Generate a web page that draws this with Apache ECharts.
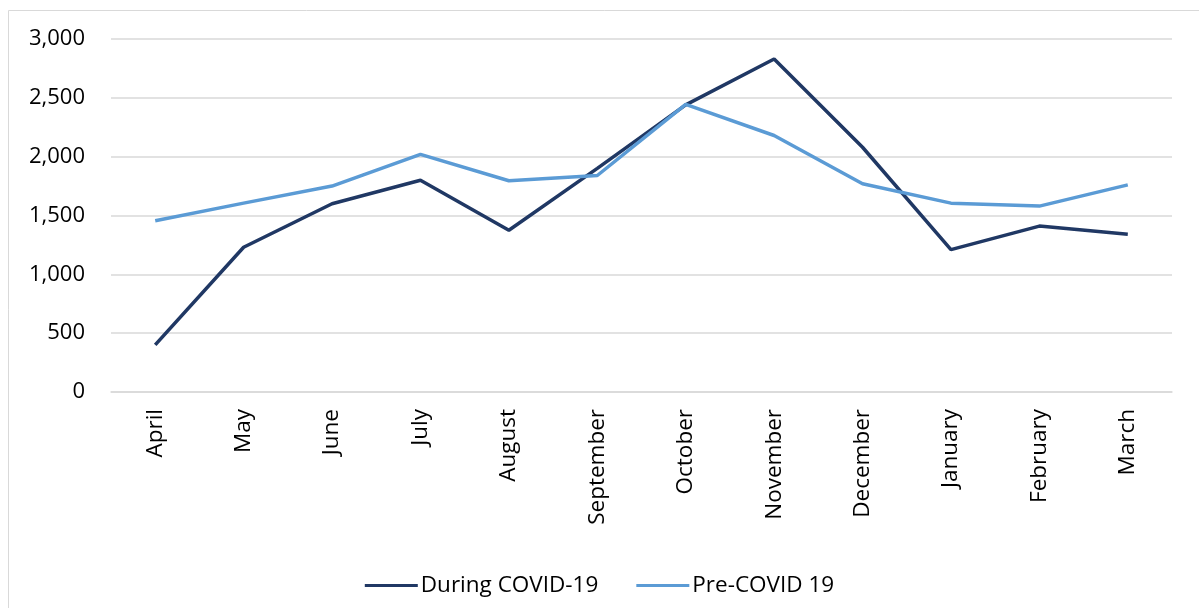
<!DOCTYPE html>
<html>
<head>
<meta charset="utf-8">
<script src="https://cdn.jsdelivr.net/npm/echarts@6/dist/echarts.min.js"></script>
<style>
  html, body { margin: 0; padding: 0; background: #fff; }
  #main { width: 1199px; height: 608px; }
</style>
</head>
<body>
<div id="main"></div>
<script>
// months of the year, April to March
var months = ['April', 'May', 'June', 'July', 'August', 'September', 'October',
    'November', 'December', 'January', 'February', 'March'];
var duringCovid = [400, 1230, 1600, 1800, 1375, 1900, 2440, 2830, 2080, 1210, 1410, 1340];
var preCovid = [1455, 1605, 1750, 2020, 1795, 1840, 2445, 2180, 1770, 1605, 1580, 1760];
var seriesNames = ['During COVID-19', 'Pre-COVID 19'];

var font = '"Open Sans", "Liberation Sans", sans-serif';

var myChart = echarts.init(document.getElementById('main'));
var option = {
    animation: false,
    color: ['#203864', '#5b9bd5'],
    graphic: [{
        type: 'rect',
        shape: { x: 8.5, y: 10.5, width: 1200, height: 620 },
        style: { fill: 'none', stroke: '#d9d9d9', lineWidth: 1 }
    }],
    grid: { left: 111, right: 27, top: 39, bottom: 216 },
    legend: {
        bottom: 6,
        left: 'center',
        itemWidth: 53,
        itemHeight: 3,
        itemGap: 38,
        icon: 'rect',
        textStyle: { fontFamily: font, fontSize: 22.5, color: '#000', padding: [0, 0, 0, -2] },
        data: seriesNames
    },
    xAxis: {
        type: 'category',
        data: months,
        axisLine: { lineStyle: { color: '#d9d9d9', width: 1.5 } },
        axisTick: { show: false },
        axisLabel: {
            rotate: 90,
            margin: 17,
            color: '#000',
            fontFamily: font,
            fontSize: 22.5
        }
    },
    yAxis: {
        type: 'value',
        min: 0,
        max: 3000,
        interval: 500,
        axisLine: { show: false },
        axisTick: { show: false },
        splitLine: { lineStyle: { color: '#d9d9d9', width: 1.5 } },
        axisLabel: {
            margin: 26,
            color: '#000',
            fontFamily: font,
            fontSize: 22,
            formatter: function (v) { return v.toLocaleString('en-US'); }
        }
    },
    series: [{
        name: seriesNames[0],
        type: 'line',
        data: duringCovid,
        symbol: 'none',
        lineStyle: { width: 3.5 }
    }, {
        name: seriesNames[1],
        type: 'line',
        data: preCovid,
        symbol: 'none',
        lineStyle: { width: 3.5 }
    }]
};
myChart.setOption(option);
</script>
</body>
</html>
